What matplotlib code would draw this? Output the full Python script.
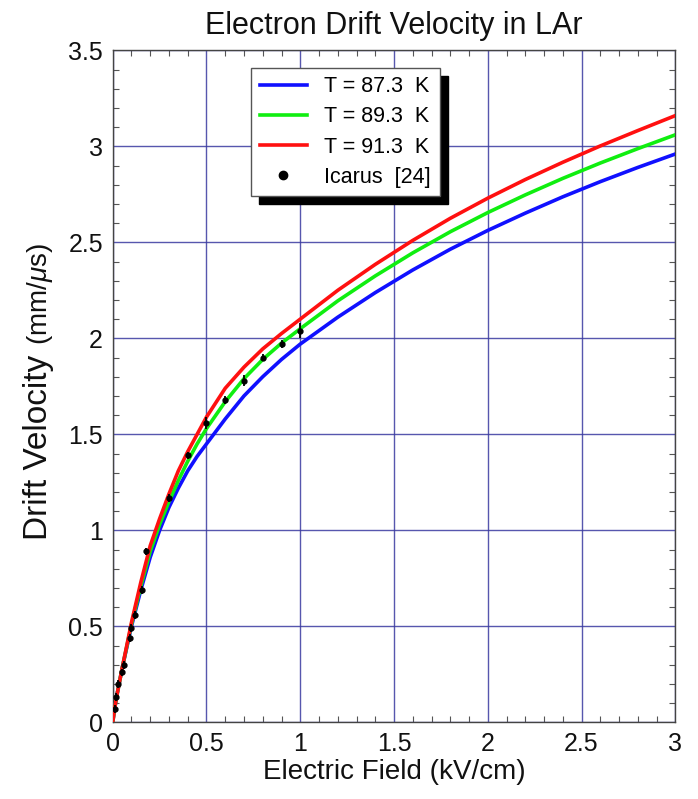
import matplotlib
matplotlib.use("Agg")
import matplotlib.pyplot as plt
from matplotlib.ticker import MultipleLocator, FuncFormatter
from matplotlib.lines import Line2D

plt.rcParams['font.family'] = ['Liberation Sans', 'DejaVu Sans']
plt.rcParams['mathtext.fontset'] = 'custom'
plt.rcParams['mathtext.it'] = 'Liberation Sans:italic'
plt.rcParams['mathtext.rm'] = 'Liberation Sans'

# ---- data ----
field = [0, 0.01, 0.02, 0.05, 0.1, 0.15, 0.2, 0.25, 0.3, 0.35, 0.4, 0.45, 0.5, 0.6,
         0.7, 0.8, 0.9, 1.0, 1.2, 1.4, 1.6, 1.8, 2.0, 2.2, 2.4, 2.6, 2.8, 3.0]
v_873 = [0, 0.07, 0.13, 0.28, 0.50, 0.69, 0.86, 1.00, 1.12, 1.22, 1.31, 1.385, 1.45,
         1.58, 1.70, 1.80, 1.89, 1.97, 2.11, 2.238, 2.356, 2.464, 2.562, 2.652,
         2.737, 2.816, 2.89, 2.96]
v_893 = [0, 0.07, 0.13, 0.28, 0.51, 0.71, 0.89, 1.03, 1.15, 1.26, 1.36, 1.45, 1.53,
         1.67, 1.79, 1.89, 1.975, 2.05, 2.195, 2.325, 2.445, 2.555, 2.655, 2.747,
         2.833, 2.913, 2.988, 3.06]
v_913 = [0, 0.07, 0.13, 0.28, 0.52, 0.73, 0.92, 1.06, 1.19, 1.31, 1.41, 1.50, 1.59,
         1.74, 1.85, 1.945, 2.025, 2.10, 2.25, 2.385, 2.51, 2.625, 2.73, 2.827,
         2.917, 3.002, 3.082, 3.16]

icarus_E = [0.01, 0.02, 0.03, 0.05, 0.06, 0.09, 0.10, 0.12, 0.155, 0.175,
            0.3, 0.4, 0.5, 0.6, 0.7, 0.8, 0.9, 1.0]
icarus_v = [0.07, 0.13, 0.20, 0.26, 0.30, 0.44, 0.49, 0.56, 0.69, 0.89,
            1.17, 1.39, 1.56, 1.68, 1.78, 1.90, 1.97, 2.04]
icarus_err = [0.02, 0.02, 0.02, 0.02, 0.02, 0.02, 0.02, 0.02, 0.02, 0.02,
              0.02, 0.02, 0.03, 0.02, 0.03, 0.02, 0.02, 0.04]

labels = ["T = 87.3  K", "T = 89.3  K", "T = 91.3  K", "Icarus  [24]"]
colors = ["#1010ff", "#10ee10", "#ff1010"]

fig = plt.figure(figsize=(6.98, 7.99), dpi=100)
ax = fig.add_axes([0.1615, 0.096, 0.806, 0.841])

handles = []
for v, c, lab in zip([v_873, v_893, v_913], colors, labels[:3]):
    h, = ax.plot(field, v, color=c, lw=2.6, label=lab, zorder=3,
                 solid_joinstyle='round')
    handles.append(h)

ax.errorbar(icarus_E, icarus_v, yerr=icarus_err, fmt='o', color='black',
            ms=3.5, elinewidth=1.3, capsize=0, zorder=4)
handles.append(Line2D([], [], marker='o', ls='none', color='black', ms=6))

ax.set_xlim(0, 3)
ax.set_ylim(0, 3.5)
ax.xaxis.set_major_locator(MultipleLocator(0.5))
ax.yaxis.set_major_locator(MultipleLocator(0.5))
ax.xaxis.set_minor_locator(MultipleLocator(0.1))
ax.yaxis.set_minor_locator(MultipleLocator(0.1))

def fmt(x, pos):
    return ('%.1f' % x).rstrip('0').rstrip('.')
ax.xaxis.set_major_formatter(FuncFormatter(fmt))
ax.yaxis.set_major_formatter(FuncFormatter(fmt))

ax.grid(True, which='major', color='#3a3aa0', lw=1.0, alpha=0.85, zorder=1)
ax.set_axisbelow(True)
ax.tick_params(which='both', direction='in', top=True, right=True, color='#555555')
ax.tick_params(which='major', length=0, labelsize=18, pad=7, labelcolor='#111111')
ax.tick_params(which='minor', length=4, width=0.8)
for s in ax.spines.values():
    s.set_color('#444444')
    s.set_linewidth(1.0)

ax.set_title("Electron Drift Velocity in LAr", fontsize=22, pad=12, color='#111111')
ax.set_xlabel("Electric Field (kV/cm)", fontsize=20, labelpad=2, color='#111111')

# y label: larger "Drift Velocity" + smaller "(mm/μs)"
jx, jy = 0.067, 0.568
fig.text(jx, jy, "Drift Velocity ", fontsize=24, rotation=90, rotation_mode='anchor',
         ha='right', va='baseline', color='#111111')
fig.text(jx, jy, r"(mm/$\mu$s)", fontsize=20, rotation=90, rotation_mode='anchor',
         ha='left', va='baseline', color='#111111')

leg = ax.legend(handles, labels, loc='upper left', bbox_to_anchor=(0.246, 0.974),
                fontsize=15.5, frameon=True, fancybox=False, framealpha=1,
                edgecolor='#555555', handlelength=2.2, handletextpad=0.8,
                borderpad=0.4, labelspacing=0.42, borderaxespad=0,
                shadow={'color': 'black', 'alpha': 1, 'ox': 6, 'oy': -6})
leg.get_frame().set_linewidth(1.0)

fig.savefig("out.png", dpi=100)
